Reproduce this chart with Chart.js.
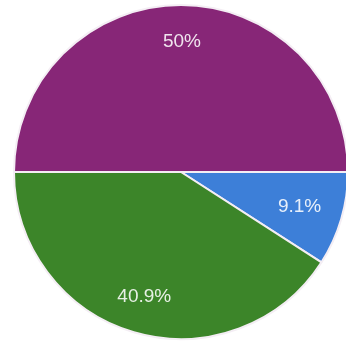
<!DOCTYPE html>
<html><head><meta charset="utf-8">
<script src="https://cdn.jsdelivr.net/npm/chart.js@4"></script>
<style>html,body{margin:0;padding:0;background:#fff;overflow:hidden;width:346px;height:345px}
#wrap{position:absolute;left:0;top:0;width:362px;height:344px}</style>
</head><body>
<div id="wrap"><canvas id="c" width="362" height="344"></canvas></div>
<script>
const categories = ["A", "B", "C"];
const values = [50, 9.1, 40.9];
const labels = ["50%", "9.1%", "40.9%"];
const colors = ["#872677", "#3d7fd8", "#3c8529"];
const labelRadius = [0.78, 0.74, 0.78];

const labelPlugin = {
  id: 'sliceLabels',
  afterDatasetsDraw(chart) {
    const ctx = chart.ctx;
    const meta = chart.getDatasetMeta(0);
    ctx.save();
    ctx.font = '19px "Liberation Sans", Arial, sans-serif';
    ctx.fillStyle = 'rgba(255,255,255,0.88)';
    ctx.textAlign = 'center';
    ctx.textBaseline = 'middle';
    meta.data.forEach((arc, i) => {
      const p = arc.getProps(['x','y','startAngle','endAngle','outerRadius'], true);
      const a = (p.startAngle + p.endAngle) / 2;
      const r = p.outerRadius * labelRadius[i];
      ctx.fillText(labels[i], p.x + Math.cos(a) * r + (i === 0 ? 1 : 0), p.y + Math.sin(a) * r);
    });
    ctx.restore();
  }
};

new Chart(document.getElementById('c'), {
  type: 'pie',
  data: { labels: categories, datasets: [{ data: values, backgroundColor: colors, borderColor: '#f4eef4', borderWidth: 2 }] },
  options: {
    responsive: false,
    animation: false,
    rotation: -90,
    layout: { padding: 4 },
    plugins: { legend: { display: false }, tooltip: { enabled: false } }
  },
  plugins: [labelPlugin]
});
</script>
</body></html>
